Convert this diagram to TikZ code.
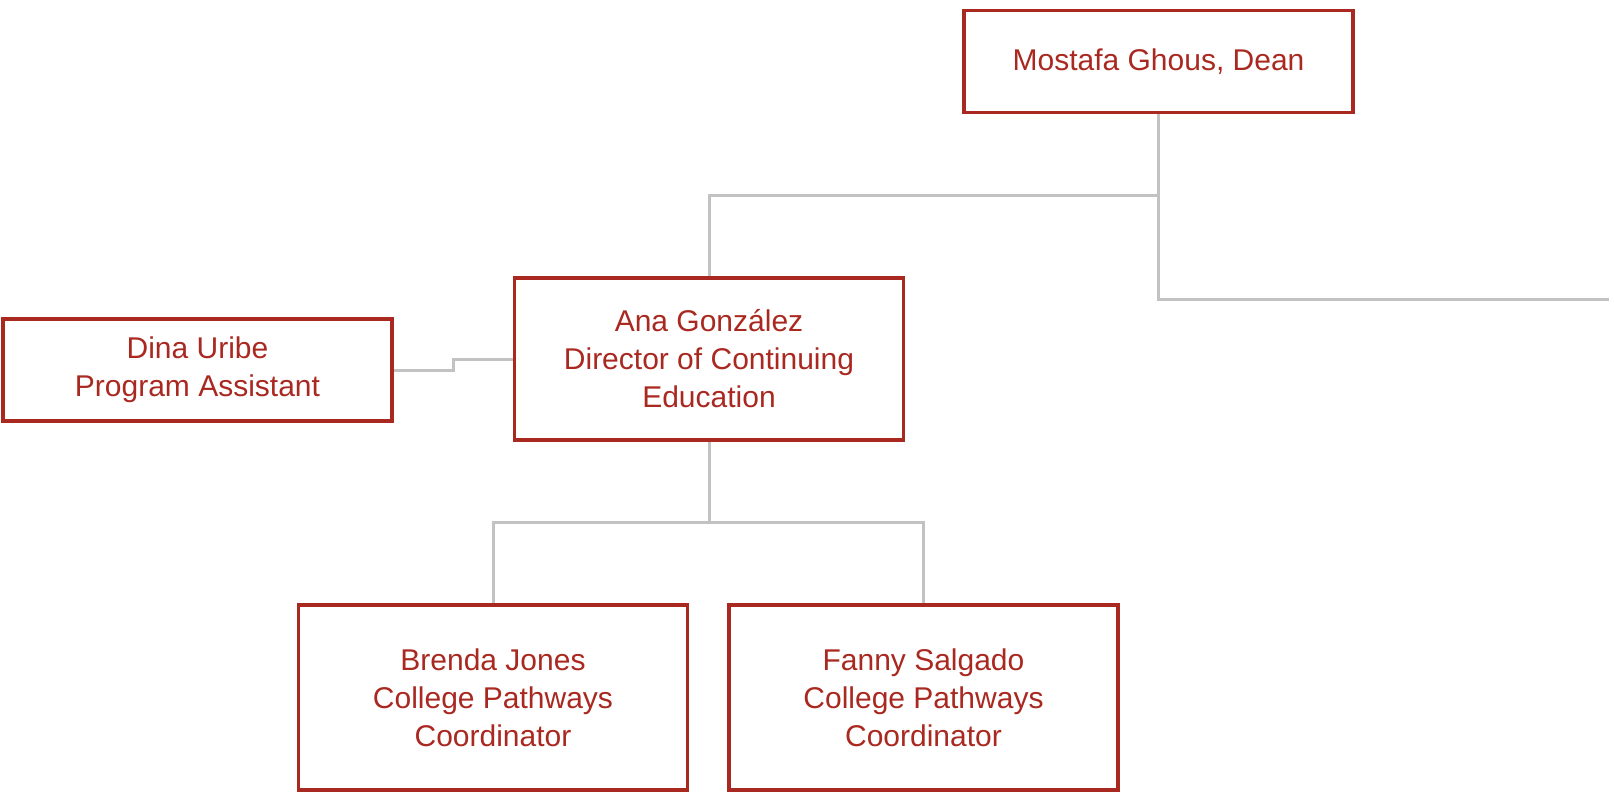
\documentclass[tikz,border=0pt]{standalone}
\usepackage{fontspec}
\setmainfont{Liberation Sans}
\definecolor{boxred}{RGB}{169,41,33}
\definecolor{linegray}{RGB}{194,194,194}
\begin{document}
\begin{tikzpicture}[x=1pt, y=-1pt, main node/.style={rectangle, draw=boxred, line width=3.8pt, text=boxred, align=center, minimum width=389pt, inner sep=0pt, font=\fontsize{30}{38}\selectfont}, link/.style={line width=3pt, draw=linegray}]
        \useasboundingbox (0,0) rectangle (1614,792);

          \node[main node, minimum height=102pt] (1) at (1158.5,61.5) {Mostafa Ghous, Dean};
          \node[main node, minimum height=162pt] (2) at (709,359) {Ana González\\Director of Continuing\\Education};
          \node[main node, minimum height=102pt] (3) at (197.5,370) {Dina Uribe\\Program Assistant};
          \node[main node, minimum height=185pt] (4) at (493,697.5) {Brenda Jones\\College Pathways\\Coordinator};
          \node[main node, minimum height=185pt] (5) at (923.5,697.5) {Fanny Salgado\\College Pathways\\Coordinator};
          \coordinate (6) at (1609,299);

          \path[link]
            (1.south) edge [to path={-- ++(0,81) -| (\tikztotarget)}] (2.north)
                      edge [to path={|- (\tikztotarget)}] (6)
            (3.east) edge [to path={-- ++(60,0) |- (\tikztotarget)}] (2.west)
            (2.south) edge [to path={-- ++(0,81) -| (\tikztotarget)}] (4.north)
                      edge [to path={-- ++(0,81) -| (\tikztotarget)}] (5.north);

\end{tikzpicture}
\end{document}
